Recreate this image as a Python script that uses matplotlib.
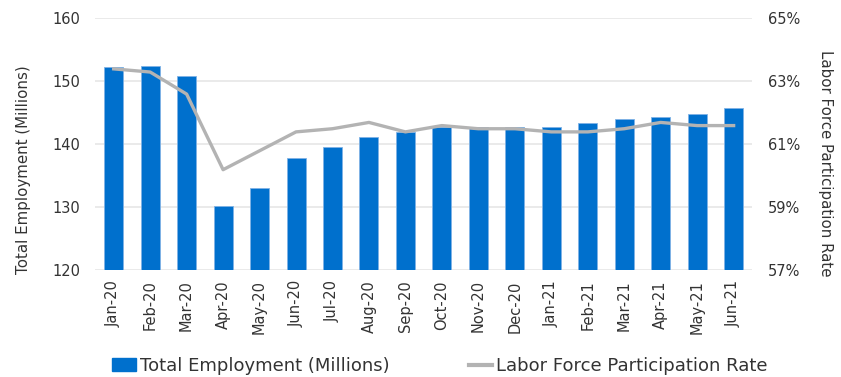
import matplotlib.pyplot as plt
from matplotlib.lines import Line2D
from matplotlib.patches import Patch
from matplotlib.ticker import FuncFormatter

plt.rcParams['font.family'] = ['DejaVu Sans']
TXT = '#333333'

months = ['Jan-20', 'Feb-20', 'Mar-20', 'Apr-20', 'May-20', 'Jun-20',
          'Jul-20', 'Aug-20', 'Sep-20', 'Oct-20', 'Nov-20', 'Dec-20',
          'Jan-21', 'Feb-21', 'Mar-21', 'Apr-21', 'May-21', 'Jun-21']
employment = [152.3, 152.5, 150.9, 130.2, 133.1, 137.9, 139.6, 141.2, 142.0,
              142.7, 142.8, 142.7, 142.8, 143.4, 144.1, 144.4, 144.9, 145.8]
participation = [63.4, 63.3, 62.6, 60.2, 60.8, 61.4, 61.5, 61.7, 61.4,
                 61.6, 61.5, 61.5, 61.4, 61.4, 61.5, 61.7, 61.6, 61.6]

fig, ax = plt.subplots(figsize=(8.41, 3.77), dpi=100)
fig.subplots_adjust(left=0.1135, right=0.894, top=0.951, bottom=0.2825)

x = range(len(months))
ax.bar(x, employment, width=0.52, color='#0070CD', edgecolor='#7FB2E5',
       linewidth=0.6, zorder=2)
ax.set_ylim(120, 160)
ax.set_yticks([120, 130, 140, 150, 160])
ax.set_xlim(-0.5, len(months) - 0.5)
ax.set_xticks(list(x))
ax.set_xticklabels(months, rotation=90, fontsize=10.5, color=TXT)
ax.tick_params(axis='y', labelsize=10.5, labelcolor=TXT, length=0, pad=11)
ax.tick_params(axis='x', length=0, pad=7)
ax.grid(axis='y', color='#E6E6E6', linewidth=1.2, zorder=0)
ax.set_axisbelow(True)

ax2 = ax.twinx()
ax2.plot(list(x), participation, color='#B3B3B3', linewidth=2.4, zorder=3)
ax2.set_ylim(57, 65)
ax2.set_yticks([57, 59, 61, 63, 65])
ax2.yaxis.set_major_formatter(FuncFormatter(lambda v, p: f'{v:.0f}%'))
ax2.tick_params(axis='y', labelsize=10.5, labelcolor=TXT, length=0, pad=11.5)

for a in (ax, ax2):
    for s in a.spines.values():
        s.set_visible(False)

# axis titles sit a little below the centre, as in the original
fig.text(24 / 841, 1 - 170 / 377, 'Total Employment (Millions)', rotation=90,
         ha='center', va='center', fontsize=10.8, color=TXT)
fig.text(826 / 841, 1 - 163 / 377, 'Labor Force Participation Rate', rotation=270,
         ha='center', va='center', fontsize=10.8, color=TXT)

handles = [Patch(facecolor='#0070CD', edgecolor='#0070CD'),
           Line2D([0], [0], color='#B3B3B3', linewidth=3)]
fig.legend(handles, ['Total Employment (Millions)', 'Labor Force Participation Rate'],
           loc='center', bbox_to_anchor=(0.523, 1 - 366 / 377), ncol=2, frameon=False,
           fontsize=13, handlelength=1.3, handletextpad=0.2, columnspacing=4.4,
           labelcolor=TXT)

fig.savefig('out.png', dpi=100)
